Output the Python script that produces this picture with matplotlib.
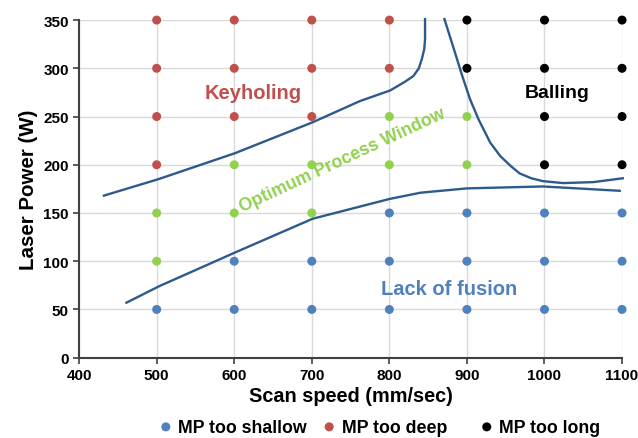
import matplotlib as mpl
mpl.use('Agg')
import matplotlib.pyplot as plt

plt.rcParams['font.family'] = ['Liberation Sans', 'DejaVu Sans']
plt.rcParams['font.weight'] = 'bold'

# process map grid: scan speed (mm/sec) vs laser power (W)
speeds = [500, 600, 700, 800, 900, 1000, 1100]
powers = [50, 100, 150, 200, 250, 300, 350]

# observed melt pool class at each (speed, power); rows follow speeds, columns follow powers
# S = too shallow, D = too deep, L = too long, O = optimum
classes = [
    ['S', 'O', 'O', 'D', 'D', 'D', 'D'],
    ['S', 'S', 'O', 'O', 'D', 'D', 'D'],
    ['S', 'S', 'O', 'O', 'D', 'D', 'D'],
    ['S', 'S', 'S', 'O', 'O', 'D', 'D'],
    ['S', 'S', 'S', 'O', 'O', 'L', 'L'],
    ['S', 'S', 'S', 'L', 'L', 'L', 'L'],
    ['S', 'S', 'S', 'L', 'L', 'L', 'L'],
]

# boundary curves
keyhole_x = [432, 502, 601, 701, 762, 801, 820, 831, 838, 842, 845, 846, 846]
keyhole_y = [168, 185, 212, 244, 266, 277, 286, 292, 300, 310, 320, 330, 351]
balling_x = [871, 882, 894, 904, 915, 930, 943, 956, 968, 983, 998, 1024, 1063, 1101]
balling_y = [351, 323, 292, 268, 247, 223, 209, 199, 191, 186, 183, 181, 182, 186]
fusion_x = [461, 503, 601, 701, 800, 840, 900, 998, 1097]
fusion_y = [57, 74, 109, 144, 164.5, 171, 175.5, 177.5, 173]

colors = {'S': '#4f81bd', 'D': '#c0504d', 'L': '#000000', 'O': '#92d050'}
labels = {'S': 'MP too shallow', 'D': 'MP too deep', 'L': 'MP too long'}

fig = plt.figure(figsize=(6.38, 4.39), dpi=100)
ax = fig.add_axes([0.124, 0.183, 0.851, 0.769])

ax.grid(True, color='#d9d9d9', linewidth=1.0)
ax.set_axisbelow(True)

line_color = '#2c5a8c'
for cx, cy in [(keyhole_x, keyhole_y), (balling_x, balling_y), (fusion_x, fusion_y)]:
    ax.plot(cx, cy, color=line_color, lw=1.7, clip_on=False, zorder=2,
            solid_joinstyle='round')

handles = {}
for key in ['S', 'D', 'L', 'O']:
    xs, ys = [], []
    for i, s in enumerate(speeds):
        for j, p in enumerate(powers):
            if classes[i][j] == key:
                xs.append(s)
                ys.append(p)
    handles[key] = ax.scatter(xs, ys, s=42, color=colors[key], edgecolors='none',
                              clip_on=False, zorder=3)

ax.text(624, 275, 'Keyholing', color='#c0504d', fontsize=14.5, fontweight='bold',
        ha='center', va='center')
ax.text(1017, 275, 'Balling', color='black', fontsize=14, fontweight='bold',
        ha='center', va='center')
ax.text(740, 205, 'Optimum Process Window', color='#92d050', fontsize=12.8,
        fontweight='bold', ha='center', va='center', rotation=25)
ax.text(877, 72, 'Lack of fusion', color='#4f81bd', fontsize=14.5, fontweight='bold',
        ha='center', va='center')

ax.set_xlim(400, 1100)
ax.set_ylim(0, 350)
ax.set_xticks(range(400, 1101, 100))
ax.set_yticks(range(0, 351, 50))
ax.tick_params(labelsize=11, length=4, width=1.2, color='#404040')
for lab in ax.get_xticklabels() + ax.get_yticklabels():
    lab.set_fontweight('bold')

for side in ['top', 'right']:
    ax.spines[side].set_visible(False)
for side in ['left', 'bottom']:
    ax.spines[side].set_color('#404040')
    ax.spines[side].set_linewidth(1.5)

ax.set_xlabel('Scan speed (mm/sec)', fontsize=14.3, fontweight='bold', labelpad=3)
ax.set_ylabel('Laser Power (W)', fontsize=14.8, fontweight='bold', labelpad=4)

# legend entries laid out one by one along the bottom
for key, xpos in [('S', 0.246), ('D', 0.502), ('L', 0.749)]:
    fig.legend([handles[key]], [labels[key]], loc='center left',
               bbox_to_anchor=(xpos, 0.025), frameon=False, fontsize=12.8,
               borderpad=0, borderaxespad=0, handlelength=1.0,
               handletextpad=0.2, scatterpoints=1)

fig.savefig('out.png', dpi=100)
